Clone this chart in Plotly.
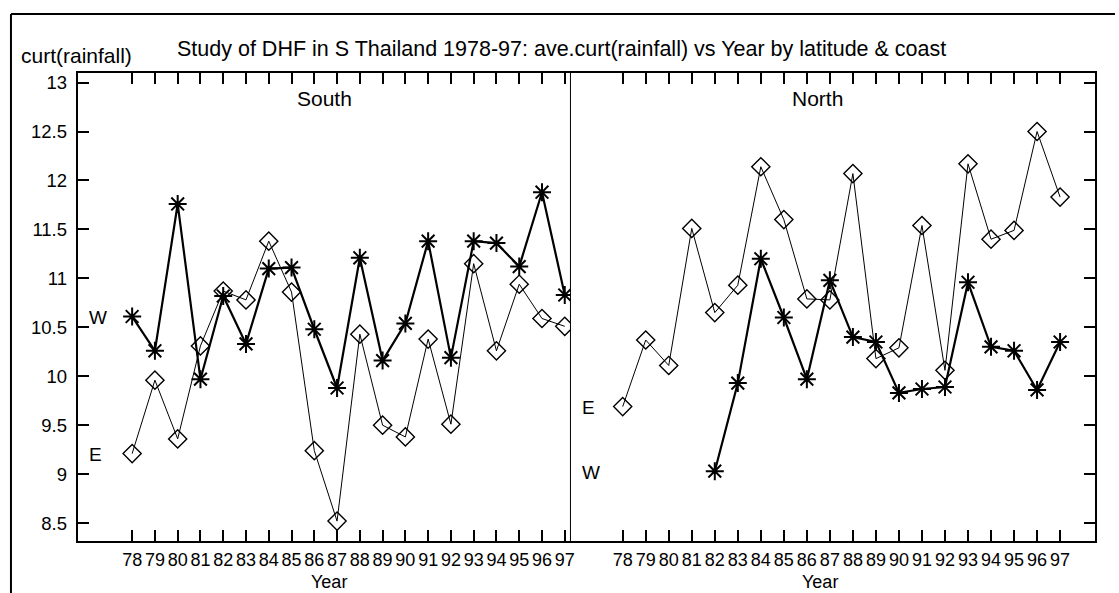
import plotly.graph_objects as go

# ---------------- data ----------------
years = list(range(78, 98))
year_labels = [str(y) for y in years]

south_W = [10.61, 10.26, 11.76, 9.97, 10.82, 10.33, 11.10, 11.11, 10.48, 9.88,
           11.21, 10.16, 10.54, 11.38, 10.19, 11.38, 11.36, 11.12, 11.88, 10.83]
south_E = [9.21, 9.96, 9.36, 10.31, 10.87, 10.78, 11.38, 10.86, 9.24, 8.52,
           10.43, 9.50, 9.38, 10.38, 9.51, 11.15, 10.26, 10.94, 10.59, 10.51]

north_E = [9.69, 10.37, 10.11, 11.51, 10.65, 10.93, 12.14, 11.60, 10.79, 10.78,
           12.07, 10.18, 10.29, 11.54, 10.06, 12.17, 11.40, 11.49, 12.50, 11.83]
north_W_years = list(range(82, 98))
north_W = [9.03, 9.93, 11.20, 10.60, 9.97, 10.98, 10.40, 10.35, 9.83, 9.87,
           9.89, 10.96, 10.30, 10.26, 9.86, 10.35]

y_ticks = [8.5, 9, 9.5, 10, 10.5, 11, 11.5, 12, 12.5, 13]
y_tick_labels = ["8.5", "9", "9.5", "10", "10.5", "11", "11.5", "12", "12.5", "13"]

title_text = "Study of DHF in S Thailand 1978-97: ave.curt(rainfall) vs Year by latitude & coast"
ylabel_text = "curt(rainfall)"
panel_names = ["South", "North"]
xlabel_text = "Year"

# ---------------- layout helpers ----------------
W, H = 1119, 593
FONT = "Liberation Sans, Arial, Helvetica, sans-serif"


def px(x):
    return x / W


def py(y):
    return 1 - y / H


E_style = dict(mode="lines+markers",
               line=dict(color="black", width=1),
               marker=dict(symbol="diamond-open", size=14, color="black",
                           line=dict(color="black", width=1.4)))
W_style = dict(mode="lines+markers",
               line=dict(color="black", width=2.2),
               marker=dict(symbol="asterisk-open", size=15, color="black",
                           line=dict(color="black", width=2)))

fig = go.Figure()
fig.add_trace(go.Scatter(x=years, y=south_E, xaxis="x", yaxis="y", name="E", **E_style))
fig.add_trace(go.Scatter(x=years, y=south_W, xaxis="x", yaxis="y", name="W", **W_style))
fig.add_trace(go.Scatter(x=years, y=north_E, xaxis="x2", yaxis="y2", name="E", **E_style))
fig.add_trace(go.Scatter(x=north_W_years, y=north_W, xaxis="x2", yaxis="y2", name="W", **W_style))

ydom = [py(541), py(72)]
yrange = [8.316, 13.099]

common_x = dict(tickmode="array", tickvals=years, ticktext=year_labels,
                ticks="inside", ticklen=11, tickwidth=1.5, tickcolor="black",
                showline=True, linewidth=2, linecolor="black", mirror="ticks",
                showgrid=False, zeroline=False, ticklabelstandoff=1,
                tickfont=dict(family=FONT, size=18, color="black"))
common_y = dict(tickmode="array", tickvals=y_ticks, ticktext=y_tick_labels,
                ticks="inside", ticklen=11, tickwidth=1.5, tickcolor="black",
                showline=True, linewidth=2, linecolor="black",
                showgrid=False, zeroline=False, range=yrange, domain=ydom,
                ticklabelstandoff=5,
                tickfont=dict(family=FONT, size=18.5, color="black"))

fig.update_layout(
    width=W, height=H,
    margin=dict(l=0, r=0, t=0, b=0),
    paper_bgcolor="white", plot_bgcolor="white",
    showlegend=False,
    font=dict(family=FONT, size=18, color="black"),
    xaxis=dict(domain=[px(78), px(572.5)], range=[75.61, 97.25], anchor="y", **common_x),
    yaxis=dict(anchor="x", side="left", **common_y),
    xaxis2=dict(domain=[px(572.5), px(1099)], range=[75.73, 98.52], anchor="y2", **common_x),
    yaxis2=dict(anchor="x2", side="right", showticklabels=False, **common_y),
)

shapes = [
    # outer frame
    dict(type="line", xref="paper", yref="paper", x0=px(11), x1=1, y0=py(13), y1=py(13),
         line=dict(color="black", width=2)),
    dict(type="line", xref="paper", yref="paper", x0=px(11), x1=px(11), y0=py(13), y1=0,
         line=dict(color="black", width=2)),
    # panel divider
    dict(type="line", xref="paper", yref="paper", x0=px(572.5), x1=px(572.5),
         y0=ydom[0], y1=ydom[1], line=dict(color="black", width=1)),
]

ann = []


def add_text(text, x, y, size=21, xanchor="center"):
    ann.append(dict(text=text, x=px(x), y=py(y), xref="paper", yref="paper",
                    xanchor=xanchor, yanchor="middle", showarrow=False,
                    font=dict(family=FONT, size=size, color="black")))


add_text(title_text, 176, 48, size=21.5, xanchor="left")
add_text(ylabel_text, 19, 55, xanchor="left")
add_text(panel_names[0], 326, 98)
add_text(panel_names[1], 820, 98)
add_text(xlabel_text, 330, 582, size=18)
add_text(xlabel_text, 823, 582, size=18)
add_text("W", 98, 317, size=19)
add_text("E", 96, 454, size=19)
add_text("E", 591, 407, size=19)
add_text("W", 593, 472, size=19)

fig.update_layout(shapes=shapes, annotations=ann)

fig.write_html("out.html")
